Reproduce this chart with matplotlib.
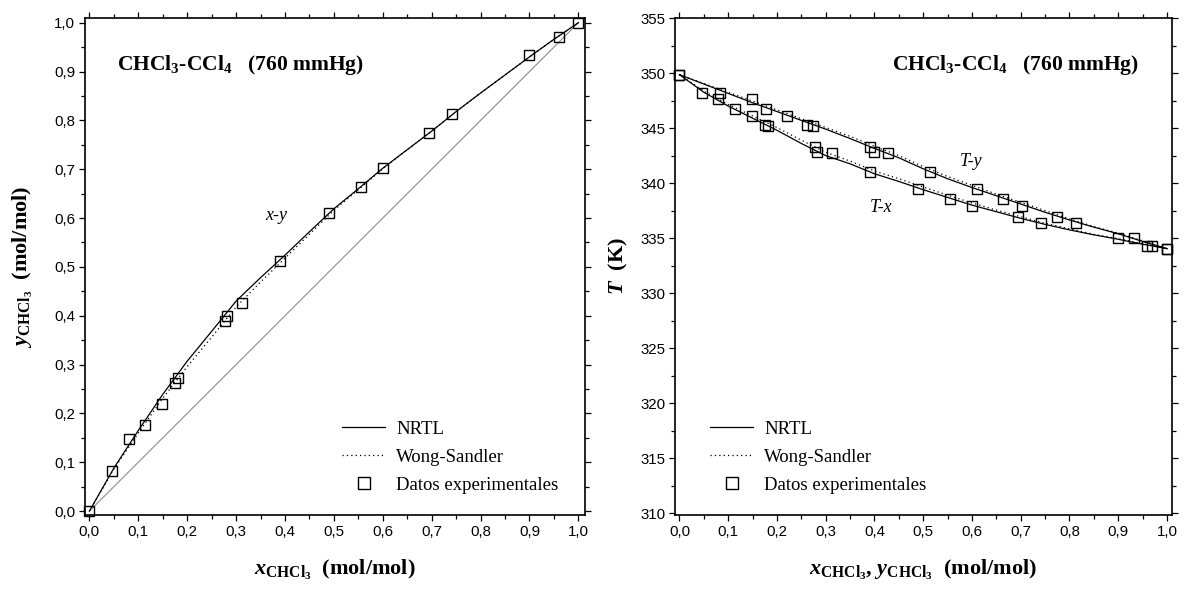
import matplotlib
matplotlib.use("Agg")
import matplotlib.pyplot as plt
from matplotlib.lines import Line2D
from matplotlib.ticker import FixedLocator, MultipleLocator

# ---------------- data ----------------
x_exp = [0.0, 0.047, 0.080, 0.113, 0.148, 0.175, 0.182, 0.277, 0.282, 0.312,
         0.390, 0.489, 0.555, 0.600, 0.695, 0.741, 0.900, 0.960, 1.0]
y_exp = [0.0, 0.083, 0.148, 0.177, 0.220, 0.262, 0.273, 0.390, 0.400, 0.427,
         0.513, 0.610, 0.663, 0.703, 0.775, 0.813, 0.933, 0.970, 1.0]
T_exp = [349.8, 348.2, 347.6, 346.7, 346.1, 345.3, 345.2, 343.3, 342.8, 342.7,
         341.0, 339.5, 338.6, 337.9, 336.9, 336.35, 335.0, 334.3, 334.05]

x_model = [0.0, 0.05, 0.10, 0.15, 0.20, 0.25, 0.30, 0.35, 0.40, 0.45, 0.50,
           0.55, 0.60, 0.65, 0.70, 0.75, 0.80, 0.85, 0.90, 0.95, 1.0]
y_nrtl = [0.0, 0.088, 0.165, 0.239, 0.307, 0.368, 0.430, 0.478, 0.524, 0.572, 0.619,
          0.660, 0.702, 0.740, 0.778, 0.818, 0.856, 0.893, 0.930, 0.966, 1.0]
y_ws = [0.0, 0.086, 0.160, 0.231, 0.296, 0.356, 0.418, 0.469, 0.518, 0.567, 0.616,
        0.658, 0.701, 0.740, 0.778, 0.818, 0.856, 0.893, 0.930, 0.966, 1.0]

Tx_nrtl = [349.85, 348.25, 347.0, 345.9, 344.8, 343.6, 342.5, 341.75, 340.85, 340.15, 339.4,
           338.7, 338.0, 337.4, 336.8, 336.25, 335.75, 335.3, 334.9, 334.45, 334.05]
Tx_ws = [349.85, 348.35, 347.15, 346.1, 345.05, 343.9, 342.8, 342.0, 341.1, 340.4, 339.65,
         338.9, 338.2, 337.55, 336.95, 336.35, 335.85, 335.35, 334.95, 334.5, 334.05]
Ty_nrtl = [349.85, 349.0, 348.15, 347.3, 346.5, 345.7, 344.9, 344.05, 343.15, 342.3, 341.3,
           340.4, 339.6, 338.85, 338.1, 337.35, 336.65, 336.0, 335.4, 334.7, 334.05]
Ty_ws = [349.85, 349.05, 348.25, 347.45, 346.65, 345.85, 345.05, 344.25, 343.35, 342.5, 341.5,
         340.6, 339.8, 339.0, 338.25, 337.5, 336.75, 336.05, 335.45, 334.75, 334.05]

frac_ticks = [0.0, 0.1, 0.2, 0.3, 0.4, 0.5, 0.6, 0.7, 0.8, 0.9, 1.0]
frac_labels = ['0,0', '0,1', '0,2', '0,3', '0,4', '0,5', '0,6', '0,7', '0,8', '0,9', '1,0']
T_ticks = [310, 315, 320, 325, 330, 335, 340, 345, 350, 355]
T_labels = ['310', '315', '320', '325', '330', '335', '340', '345', '350', '355']

legend_labels = ['NRTL', 'Wong-Sandler', 'Datos experimentales']
title_text = r'CHCl$_3$-CCl$_4$   (760 mmHg)'

# ---------------- style ----------------
plt.rcParams['mathtext.fontset'] = 'custom'
plt.rcParams['mathtext.rm'] = 'Liberation Serif:bold'
plt.rcParams['mathtext.it'] = 'Liberation Serif:italic:bold'
plt.rcParams['mathtext.bf'] = 'Liberation Serif:bold'

SERIF = 'Liberation Serif'
TICKFONT = 'Liberation Sans'

fig = plt.figure(figsize=(11.86, 5.94), dpi=100)
W, H = 1186, 594
ax1 = fig.add_axes([85 / W, 1 - 515 / H, 500 / W, 497 / H])
ax2 = fig.add_axes([675 / W, 1 - 515 / H, 497 / W, 497 / H])

sq = dict(marker='s', mfc='none', mec='black', mew=1.0, ms=6.5, ls='none',
          clip_on=False, zorder=5)


def style_axes(ax, xticks, xlabels, yticks, ylabels, xminor, yminor):
    for s in ax.spines.values():
        s.set_linewidth(1.2)
    ax.xaxis.set_major_locator(FixedLocator(xticks))
    ax.set_xticklabels(xlabels, fontfamily=TICKFONT, fontsize=10.8)
    ax.yaxis.set_major_locator(FixedLocator(yticks))
    ax.set_yticklabels(ylabels, fontfamily=TICKFONT, fontsize=10.8)
    ax.xaxis.set_minor_locator(MultipleLocator(xminor))
    ax.yaxis.set_minor_locator(MultipleLocator(yminor))
    ax.tick_params(which='both', direction='out', top=True, right=True,
                   labeltop=False, labelright=False, width=0.9)
    ax.tick_params(which='major', length=4.0, pad=3)
    ax.tick_params(which='minor', length=3.0)


# ---------------- left panel: x-y ----------------
ax1.plot([0, 1], [0, 1], color='#8c8c8c', lw=0.8, zorder=2)
ax1.plot(x_model, y_nrtl, color='black', lw=0.9, zorder=3)
ax1.plot(x_model, y_ws, color='black', lw=0.9, ls=(0, (1, 2.5)), zorder=3)
ax1.plot(x_exp, y_exp, **sq)
ax1.set_xlim(-0.009, 1.0135)
ax1.set_ylim(-0.008, 1.0096)
style_axes(ax1, frac_ticks, frac_labels, frac_ticks, frac_labels, 0.05, 0.05)

ax1.text(0.064, 0.895, title_text, transform=ax1.transAxes, fontfamily=SERIF,
         fontweight='bold', fontsize=15.5, ha='left', va='baseline')
ax1.text(0.36, 0.596, 'x-y', fontfamily=SERIF, style='italic', fontsize=13,
         ha='left', va='baseline')
ax1.text(0.5, -0.111, r'$\mathit{x}_{\mathrm{CHCl}_{3}}$  (mol/mol)', transform=ax1.transAxes,
         fontfamily=SERIF, fontweight='bold', fontsize=16, ha='center', va='center')
ax1.text(-0.124, 0.5, r'$\mathit{y}_{\mathrm{CHCl}_{3}}$  (mol/mol)', transform=ax1.transAxes,
         fontfamily=SERIF, fontweight='bold', fontsize=16, ha='center', va='center',
         rotation=90)

# ---------------- right panel: T-x-y ----------------
ax2.plot(x_model, Tx_nrtl, color='black', lw=0.9, zorder=3)
ax2.plot(x_model, Ty_nrtl, color='black', lw=0.9, zorder=3)
ax2.plot(x_model, Tx_ws, color='black', lw=0.9, ls=(0, (1, 2.5)), zorder=3)
ax2.plot(x_model, Ty_ws, color='black', lw=0.9, ls=(0, (1, 2.5)), zorder=3)
ax2.plot(x_exp, T_exp, **sq)
ax2.plot(y_exp, T_exp, **sq)
ax2.set_xlim(-0.0092, 1.0103)
ax2.set_ylim(309.85, 355.0)
style_axes(ax2, frac_ticks, frac_labels, T_ticks, T_labels, 0.05, 2.5)

ax2.text(0.4366, 0.895, title_text, transform=ax2.transAxes, fontfamily=SERIF,
         fontweight='bold', fontsize=15.5, ha='left', va='baseline')
ax2.text(0.575, 341.52, 'T-y', fontfamily=SERIF, style='italic', fontsize=13,
         ha='left', va='baseline')
ax2.text(0.39, 337.42, 'T-x', fontfamily=SERIF, style='italic', fontsize=13,
         ha='left', va='baseline')
ax2.text(0.5, -0.111,
         r'$\mathit{x}_{\mathrm{CHCl}_{3}}$, $\mathit{y}_{\mathrm{CHCl}_{3}}$  (mol/mol)',
         transform=ax2.transAxes, fontfamily=SERIF, fontweight='bold', fontsize=16,
         ha='center', va='center')
ax2.text(-0.113, 0.5, r'$\mathit{T}$  (K)', transform=ax2.transAxes,
         fontfamily=SERIF, fontweight='bold', fontsize=16, ha='center', va='center',
         rotation=90)

# ---------------- legends ----------------
handles = [Line2D([], [], color='black', lw=0.9),
           Line2D([], [], color='black', lw=0.9, ls=(0, (1, 2.5))),
           Line2D([], [], marker='s', mfc='none', mec='black', mew=1.0, ms=8, ls='none')]
for ax, xa in ((ax1, 0.514), (ax2, 0.0704)):
    ax.legend(handles, legend_labels, loc='upper left', bbox_to_anchor=(xa, 0.19),
              frameon=False, prop={'family': SERIF, 'size': 13.5},
              handlelength=2.3, handletextpad=0.6, labelspacing=0.58,
              borderpad=0, borderaxespad=0)

fig.savefig('out.png', dpi=100)
